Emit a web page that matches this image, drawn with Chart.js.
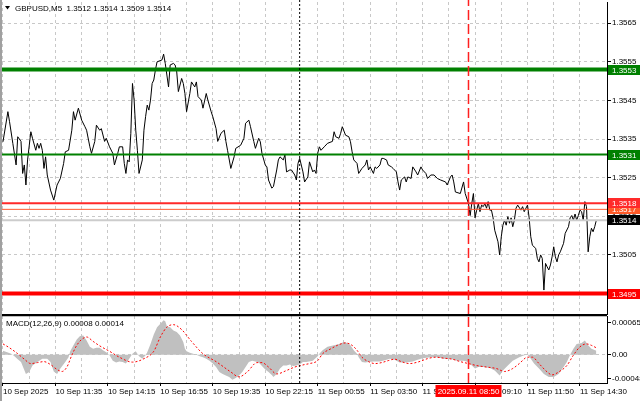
<!DOCTYPE html>
<html>
<head>
<meta charset="utf-8">
<script src="https://cdn.jsdelivr.net/npm/chart.js@4.4.0/dist/chart.umd.min.js"></script>
<style>
  html, body { margin:0; padding:0; background:#fff; }
  #wrap { position:relative; width:640px; height:401px; overflow:hidden; background:#fff; }
  #price { position:absolute; left:0; top:0; }
  #macd { position:absolute; left:0; top:315px; }
</style>
</head>
<body>
<div id="wrap">
  <canvas id="price" width="640" height="315" style="width:640px;height:315px"></canvas>
  <canvas id="macd" width="640" height="86" style="width:640px;height:86px"></canvas>
</div>
<script>
// GBPUSD M5 - index de barre (0 = 10 Sep 08:55) et cloture
const barIdx = [
  0,3,4,6,8,9,11,12,13,14,
  15,17,18,20,21,22,23,24,25,26,
  27,29,31,33,35,37,38,40,42,43,
  44,46,48,50,51,53,54,56,57,59,
  60,62,63,65,67,68,70,71,73,74,
  75,76,77,78,79,80,81,82,83,85,
  86,87,88,89,90,91,92,93,94,97,
  98,99,101,102,104,105,106,107,109,110,
  111,112,114,115,117,118,119,121,122,124,
  125,127,128,130,131,133,135,136,137,139,
  141,142,145,147,148,150,151,153,154,156,
  157,158,160,161,162,164,165,167,168,169,
  171,172,173,175,176,178,179,180,181,183,
  184,186,187,189,190,191,192,193,194,196,
  198,201,202,203,205,206,207,209,211,212,
  213,214,216,217,219,221,222,223,224,226,
  227,228,230,231,232,234,235,237,238,240,
  241,242,243,245,246,247,249,250,252,253,
  255,256,258,259,261,263,265,267,270,271,
  273,274,275,276,279,281,282,284,285,286,
  287,288,289,290,291,292,293,294,295,296,
  297,298,299,300,302,303,304,305,306,307,
  308,309,310,311,312,313,314,316,317,318,
  320,321,322,323,325,326,327,328,329,330,
  331,332,333,334,335,336,337,338,339,340,
  342,343,345,346,347,348,349,350,351,352,
  353,354,355,356,357,358,359,360,361,362
];
const closes = [
  1.35343,1.35421,1.35395,1.35339,1.35283,1.35356,1.35344,1.35261,1.35283,1.35231,
  1.35296,1.35369,1.35352,1.35321,1.35339,1.35326,1.35339,1.35321,1.35274,1.35304,
  1.35257,1.35218,1.35192,1.35231,1.35248,1.35287,1.35317,1.35321,1.35373,1.35421,
  1.35399,1.35430,1.35399,1.35382,1.35373,1.35330,1.35313,1.35344,1.35386,1.35373,
  1.35377,1.35344,1.35352,1.35330,1.35313,1.35283,1.35313,1.35330,1.35330,1.35287,
  1.35261,1.35296,1.35291,1.35365,1.35494,1.35451,1.35373,1.35321,1.35261,1.35296,
  1.35373,1.35408,1.35438,1.35425,1.35451,1.35494,1.35503,1.35529,1.35550,1.35555,
  1.35570,1.35546,1.35485,1.35542,1.35546,1.35542,1.35524,1.35473,1.35507,1.35494,
  1.35468,1.35421,1.35468,1.35498,1.35485,1.35498,1.35460,1.35451,1.35430,1.35468,
  1.35451,1.35421,1.35408,1.35377,1.35344,1.35365,1.35373,1.35344,1.35321,1.35274,
  1.35304,1.35326,1.35334,1.35352,1.35391,1.35399,1.35382,1.35344,1.35326,1.35352,
  1.35343,1.35313,1.35283,1.35278,1.35244,1.35223,1.35227,1.35270,1.35296,1.35304,
  1.35296,1.35309,1.35265,1.35270,1.35270,1.35257,1.35244,1.35287,1.35300,1.35265,
  1.35239,1.35252,1.35291,1.35265,1.35270,1.35261,1.35313,1.35330,1.35321,1.35330,
  1.35339,1.35344,1.35369,1.35356,1.35352,1.35365,1.35382,1.35360,1.35356,1.35343,
  1.35317,1.35296,1.35287,1.35261,1.35274,1.35283,1.35296,1.35270,1.35278,1.35261,
  1.35278,1.35274,1.35283,1.35300,1.35300,1.35296,1.35283,1.35278,1.35274,1.35265,
  1.35239,1.35218,1.35244,1.35252,1.35239,1.35252,1.35248,1.35278,1.35265,1.35257,
  1.35278,1.35270,1.35261,1.35248,1.35257,1.35257,1.35248,1.35244,1.35239,1.35231,
  1.35252,1.35257,1.35239,1.35213,1.35209,1.35239,1.35209,1.35183,1.35152,1.35183,
  1.35209,1.35146,1.35166,1.35183,1.35162,1.35179,1.35175,1.35183,1.35171,1.35188,
  1.35166,1.35166,1.35146,1.35114,1.35084,1.35050,1.35097,1.35127,1.35140,1.35127,
  1.35149,1.35132,1.35146,1.35123,1.35140,1.35171,1.35179,1.35166,1.35175,1.35162,
  1.35179,1.35146,1.35097,1.35075,1.35067,1.35041,1.35032,1.35050,1.35041,1.34959,
  1.35028,1.35019,1.35011,1.35024,1.35045,1.35071,1.35045,1.35032,1.35050,1.35058,
  1.35080,1.35106,1.35123,1.35146,1.35152,1.35140,1.35156,1.35140,1.35152,1.35166,
  1.35162,1.35140,1.35188,1.35175,1.35058,1.35097,1.35119,1.35110,1.35123,1.35140
];

// MACD(12,26,9) : histogramme (gris) et signal (pointilles rouges)
const histBars = [
  0,5,7,9,11,14,16,18,21,24,
  27,29,31,33,35,38,40,41,43,45,
  47,49,51,53,55,57,59,61,63,65,
  67,69,71,73,75,77,79,81,83,85,
  87,88,90,92,94,96,98,99,100,102,
  104,106,108,110,111,112,114,116,118,120,
  122,124,126,128,130,132,134,136,138,140,
  142,144,146,148,150,152,154,156,158,160,
  162,164,165,167,169,171,173,175,177,179,
  181,183,185,189,192,193,195,198,202,205,
  208,210,212,214,216,217,219,221,223,226,
  230,234,236,239,242,246,250,253,256,261,
  265,269,273,277,281,284,286,288,290,293,
  297,300,303,305,308,311,315,318,320,322,
  324,327,330,333,336,339,342,344,346,348,
  350,353,355,357,359,362
];
const histVals = [
  0.00008,0.00002,-0.00003,-0.00009,-0.00015,-0.00039,-0.00035,-0.00022,-0.00015,-0.00008,
  -0.00008,-0.00015,-0.00034,-0.00039,-0.00028,-0.00015,-0.00005,0.00007,0.00019,0.00031,
  0.00038,0.00039,0.00029,0.00016,0.00012,0.00014,0.00014,0.00009,0.00005,-0.00001,
  -0.00012,-0.00016,-0.00014,-0.00015,-0.00018,-0.00008,0.00002,0.00007,-0.00003,-0.00008,
  -0.00001,0.00005,0.00022,0.00041,0.00056,0.00063,0.00070,0.00068,0.00058,0.00056,
  0.00049,0.00046,0.00039,0.00026,0.00012,0.00007,0.00004,0.00002,0,-0.00003,
  -0.00005,-0.00008,-0.00012,-0.00018,-0.00025,-0.00035,-0.00039,-0.00042,-0.00045,-0.00051,
  -0.00047,-0.00042,-0.00035,-0.00025,-0.00015,-0.00012,-0.00014,-0.00016,-0.00023,-0.00030,
  -0.00035,-0.00041,-0.00045,-0.00039,-0.00028,-0.00022,-0.00022,-0.00020,-0.00023,-0.00022,
  -0.00020,-0.00015,-0.00015,-0.00012,-0.00003,0.00002,0.00009,0.00016,0.00019,0.00022,
  0.00026,0.00024,0.00019,0.00009,0.00002,-0.00005,-0.00015,-0.00016,-0.00015,-0.00014,
  -0.00014,-0.00010,-0.00008,-0.00010,-0.00016,-0.00016,-0.00014,-0.00010,-0.00007,-0.00005,
  -0.00005,-0.00008,-0.00008,-0.00012,-0.00012,-0.00015,-0.00022,-0.00028,-0.00025,-0.00025,
  -0.00027,-0.00032,-0.00042,-0.00032,-0.00022,-0.00012,-0.00005,-0.00001,0,-0.00008,
  -0.00018,-0.00028,-0.00039,-0.00045,-0.00045,-0.00039,-0.00025,-0.00015,0,0.00012,
  0.00022,0.00024,0.00029,0.00019,0.00012,0.00008
];
const sigBars = [
  0,4,9,13,17,21,25,29,33,36,
  39,42,45,48,51,55,59,65,71,79,
  86,92,96,100,104,109,115,122,130,139,
  144,149,155,158,162,167,173,178,184,187,
  192,195,200,204,209,213,216,219,223,227,
  231,235,239,243,248,253,259,264,269,274,
  279,284,289,295,301,306,311,315,320,323,
  327,332,335,339,344,348,352,356,359,362
];
const sigVals = [
  0.00022,0.00014,0.00002,-0.00009,-0.00018,-0.00016,-0.00014,-0.00020,-0.00030,-0.00034,
  -0.00025,-0.00001,0.00019,0.00031,0.00036,0.00027,0.00018,0.00007,-0.00005,-0.00015,
  -0.00008,0.00007,0.00036,0.00056,0.00061,0.00051,0.00027,0.00002,-0.00014,-0.00035,
  -0.00045,-0.00035,-0.00016,-0.00016,-0.00025,-0.00039,-0.00032,-0.00025,-0.00020,-0.00018,
  -0.00012,0.00002,0.00012,0.00019,0.00024,0.00019,0.00009,-0.00005,-0.00014,-0.00018,
  -0.00016,-0.00012,-0.00009,-0.00014,-0.00018,-0.00015,-0.00008,-0.00005,-0.00007,-0.00009,
  -0.00014,-0.00018,-0.00022,-0.00025,-0.00028,-0.00034,-0.00028,-0.00018,-0.00005,-0.00005,
  -0.00018,-0.00035,-0.00041,-0.00035,-0.00022,-0.00001,0.00016,0.00022,0.00019,0.00014
];

const timeLabels = ['10 Sep 2025','10 Sep 11:35','10 Sep 14:15','10 Sep 16:55','10 Sep 19:35','10 Sep 22:15',
                    '11 Sep 00:55','11 Sep 03:50','11 Sep 06:30','11 Sep 09:10','11 Sep 11:50','11 Sep 14:30'];
const priceTicks = [1.3495,1.3505,1.3515,1.3525,1.3535,1.3545,1.3555,1.3565];
const macdTicks = [-0.00048, 0, 0.00065];
// niveaux traces (ordre = ordre de dessin des etiquettes)
const levelValues = [1.3553, 1.3531, 1.3495, 1.35168, 1.35184, 1.3514];
const ohlc = [1.3512, 1.3514, 1.3509, 1.3514];
const dayBreakBar = 181;
const markerBar = 284;
const markerLabel = '2025.09.11 08:50';

// styles
const levelStyle = [
  {line:'#008000', w:4, box:'#008000', txt:'#fff'},
  {line:'#008000', w:2, box:'#008000', txt:'#fff'},
  {line:'#ff0000', w:4, box:'#ff0000', txt:'#fff'},
  {line:'#ff5a32', w:1, box:'#ff5a28', txt:'#fff'},
  {line:'#ff2a2a', w:2, box:'#ff2a2a', txt:'#fff'},
  {line:'#cccccc', w:2, box:'#000000', txt:'#fff'}
];
const X_MIN = -0.6, X_MAX = 368.5;
const P_MIN = 1.34897, P_MAX = 1.35705;
const M_MIN = -0.000574, M_MAX = 0.000786;
const FONT = {family: 'Liberation Sans', size: 8};
const GRID = '#c8c8c8';

Chart.defaults.font.family = 'Liberation Sans';
Chart.defaults.font.size = 8;
Chart.defaults.color = '#000';

// pas de marge auto en haut/bas pour les etiquettes de l'axe de droite
function noPad(s) { s.width = 33; s.paddingTop = 0; s.paddingBottom = 0; }

function xScale(showLabels) {
  return {
    type: 'linear', min: X_MIN, max: X_MAX,
    afterBuildTicks: s => { s.ticks = []; for (let b = 0; b <= 352; b += 16) s.ticks.push({value: b}); },
    afterFit: s => { if (showLabels) s.height = 18; },
    grid: {
      color: GRID, drawTicks: showLabels, tickLength: 3,
      tickColor: c => (c.tick && c.tick.value % 32 === 0) ? '#000' : 'rgba(0,0,0,0)'
    },
    border: {display: true, color: '#000', width: 1, dash: [3, 3]},
    ticks: {
      display: showLabels, autoSkip: false, maxRotation: 0, align: 'start', padding: 1, font: FONT, color: '#000',
      callback: v => v % 32 === 0 ? timeLabels[v / 32] : ''
    }
  };
}

function vline(bar, lo, hi, color, dash, w) {
  return {type: 'line', data: [{x: bar, y: lo}, {x: bar, y: hi}], borderColor: color, borderWidth: w,
          borderDash: dash, pointRadius: 0, order: 0, clip: false};
}

const leftEdge = {
  id: 'leftEdge',
  afterDraw(chart) {
    const ctx = chart.ctx;
    ctx.save();
    ctx.fillStyle = '#a0a0a0';
    ctx.fillRect(0, 0, 2, chart.height);
    ctx.restore();
  }
};

const priceDecor = {
  id: 'priceDecor',
  afterDraw(chart) {
    const {ctx, chartArea} = chart;
    const y = chart.scales.y;
    ctx.save();
    ctx.font = '8px "Liberation Sans"';
    ctx.textBaseline = 'middle';
    levelValues.forEach((v, i) => {
      const py = Math.round(y.getPixelForValue(v));
      ctx.fillStyle = levelStyle[i].box;
      ctx.fillRect(chartArea.right + 1, py - 5, 33, 10);
      ctx.fillStyle = levelStyle[i].txt;
      ctx.fillText(v.toFixed(4), chartArea.right + 5, py + 0.5);
    });
    // titre
    ctx.fillStyle = '#000';
    ctx.beginPath(); ctx.moveTo(5, 6); ctx.lineTo(10, 6); ctx.lineTo(7.5, 9.5); ctx.closePath(); ctx.fill();
    ctx.fillText('GBPUSD,M5  ' + ohlc.map(v => v.toFixed(4)).join(' '), 15, 8.5);
    ctx.restore();
  }
};

const macdDecor = {
  id: 'macdDecor',
  afterDraw(chart) {
    const {ctx, chartArea} = chart;
    ctx.save();
    ctx.strokeStyle = '#000'; ctx.lineWidth = 1.5;
    ctx.beginPath(); ctx.moveTo(0, chartArea.top - 0.5); ctx.lineTo(chartArea.right, chartArea.top - 0.5); ctx.stroke();
    ctx.font = '8px "Liberation Sans"';
    ctx.textBaseline = 'middle';
    ctx.fillStyle = '#000';
    ctx.fillText('MACD(12,26,9) ' + histVals[histVals.length - 1].toFixed(5) + ' ' + sigVals[sigVals.length - 1].toFixed(5), 6, 9);
    // etiquette de date sur l'axe
    const px = chart.scales.x.getPixelForValue(markerBar);
    ctx.fillStyle = '#ff0000';
    ctx.fillRect(px - 33, chartArea.bottom + 2, 66, 12);
    ctx.fillStyle = '#fff';
    ctx.textAlign = 'center';
    ctx.fillText(markerLabel, px, chartArea.bottom + 8.5);
    ctx.restore();
  }
};

new Chart(document.getElementById('price'), {
  type: 'line',
  data: {
    datasets: [
      {data: barIdx.map((b, i) => ({x: b, y: closes[i]})), borderColor: '#000', borderWidth: 1, pointRadius: 0, tension: 0, order: 10},
      ...levelValues.map((v, i) => ({data: [{x: X_MIN, y: v}, {x: X_MAX, y: v}], borderColor: levelStyle[i].line,
                                       borderWidth: levelStyle[i].w, pointRadius: 0, order: 1})),
      vline(dayBreakBar, P_MIN, P_MAX + 0.0001, '#000', [2, 2], 1),
      vline(markerBar, P_MIN, P_MAX + 0.0001, '#ff2020', [10, 4], 1.5)
    ]
  },
  options: {
    responsive: false, animation: false, events: [],
    layout: {padding: {left: 2, top: 2, right: 0, bottom: 1}},
    plugins: {legend: {display: false}, tooltip: {enabled: false}},
    scales: {
      x: xScale(false),
      y: {
        position: 'right', min: P_MIN, max: P_MAX,
        afterBuildTicks: s => { s.ticks = priceTicks.map(v => ({value: v})); },
        afterFit: noPad,
        grid: {color: GRID, tickLength: 4, tickColor: '#000'},
        border: {display: true, color: '#000', width: 1, dash: [3, 3]},
        ticks: {autoSkip: false, padding: 1, font: FONT, color: '#000', callback: v => v.toFixed(4)}
      }
    }
  },
  plugins: [priceDecor, leftEdge]
});

new Chart(document.getElementById('macd'), {
  type: 'line',
  data: {
    datasets: [
      {data: sigBars.map((b, i) => ({x: b, y: sigVals[i]})), borderColor: '#ff0000', borderWidth: 1, borderDash: [2, 2],
       pointRadius: 0, cubicInterpolationMode: 'monotone', order: 2},
      {data: histBars.map((b, i) => ({x: b, y: histVals[i]})), borderWidth: 0, borderColor: 'rgba(0,0,0,0)',
       backgroundColor: '#c0c0c0', fill: 'origin', pointRadius: 0, tension: 0, order: 5},
      vline(dayBreakBar, M_MIN, M_MAX, '#000', [2, 2], 1),
      vline(markerBar, M_MIN, M_MAX, '#ff2020', [10, 4], 1.5)
    ]
  },
  options: {
    responsive: false, animation: false, events: [],
    layout: {padding: {left: 2, top: 1, right: 0, bottom: 0}},
    plugins: {legend: {display: false}, tooltip: {enabled: false}},
    scales: {
      x: xScale(true),
      y: {
        position: 'right', min: M_MIN, max: M_MAX,
        afterBuildTicks: s => { s.ticks = macdTicks.map(v => ({value: v})); },
        afterFit: noPad,
        grid: {color: c => (c.tick && c.tick.value === 0) ? GRID : 'rgba(0,0,0,0)', tickLength: 4, tickColor: '#000'},
        border: {display: true, color: '#000', width: 1, dash: [3, 3]},
        ticks: {autoSkip: false, padding: 1, font: FONT, color: '#000',
                callback: v => v === 0 ? '0.00' : v.toFixed(5)}
      }
    }
  },
  plugins: [macdDecor, leftEdge]
});
</script>
</body>
</html>
